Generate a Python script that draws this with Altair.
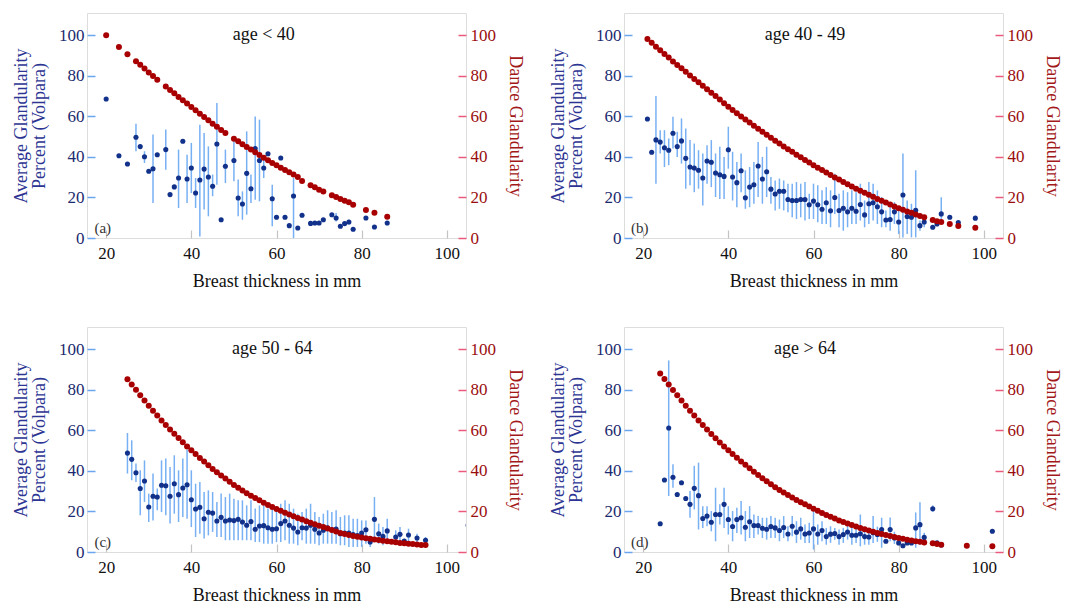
import altair as alt
import pandas as pd

FONT = "Liberation Serif"

# ---------------- panel (a): age < 40 ----------------
a_red_x = [20, 23, 25, 27, 28, 29, 30, 31, 32, 34, 35, 36, 37, 38, 39, 40, 41, 42, 43, 44, 45, 46, 47, 48,
           50, 51, 52, 53, 54, 55, 56, 57, 58, 59, 60, 61, 62, 63, 64, 65, 66, 68, 69, 70, 71,
           73, 74, 75, 76, 77, 78, 81, 83, 86]
a_red_y = [100, 94.2, 90.6, 87.2, 85.5, 83.6, 81.7, 79.9, 78.1, 74.7, 73.0, 71.4, 69.6, 67.9, 66.3, 64.6,
           63.0, 61.3, 59.7, 58.1, 56.4, 54.9, 53.3, 51.8, 49.0, 47.7, 46.2, 44.9, 43.6, 42.3, 41.0, 39.6,
           38.3, 37.0, 35.9, 34.7, 33.6, 32.4, 31.3, 30.1, 28.1, 26.0, 25.0, 23.8, 22.9, 21.1, 20.2, 19.2,
           18.4, 17.6, 16.4, 13.8, 12.5, 10.5]
a_blue_x = [20, 23, 25, 27, 28, 29, 30, 31, 32, 34, 35, 36, 37, 38, 39, 40, 41, 42, 43, 44, 45, 46, 47, 48,
            50, 51, 52, 53, 54, 55, 56, 57, 58, 59, 60, 61, 62, 63, 64, 65, 66, 68, 69, 70, 71,
            73, 74, 75, 76, 77, 78, 81, 83, 86]
a_blue_y = [68.6, 40.6, 36.5, 49.7, 45.1, 40.1, 32.9, 34.2, 41.1, 43.6, 21.4, 25.2, 29.6, 47.7, 29.1, 34.5,
            22.2, 28.6, 34.0, 30.1, 25.5, 46.4, 9.0, 35.4, 38.2, 19.7, 16.8, 31.9, 24.3, 44.1, 38.2, 34.5,
            41.6, 19.4, 10.2, 39.5, 10.2, 6.1, 20.7, 4.9, 11.2, 7.2, 7.4, 7.4, 9.0, 11.5, 9.9, 5.8, 7.1,
            7.9, 4.3, 9.9, 5.4, 7.4]
a_bar_x = [27, 29, 31, 34, 37, 39, 40, 41, 42, 43, 44, 45, 46, 48, 50, 51, 52, 53, 54, 55, 56, 57, 59, 64, 74, 77]
a_bar_lo = [42.8, 37.0, 17.3, 33.7, 14.8, 17.3, 22.2, 14.8, 0.8, 14.0, 10.7, 20.6, 26.3, 27.1, 28.0, 10.7,
            9.0, 11.5, 17.3, 18.9, 18.1, 29.6, 5.8, 0.0, 8.2, 6.6]
a_bar_hi = [56.4, 42.8, 51.0, 53.5, 43.6, 41.1, 46.9, 29.6, 55.9, 51.8, 45.2, 31.3, 66.6, 43.6, 48.5, 28.8,
            23.0, 52.6, 31.3, 60.0, 58.4, 38.7, 26.3, 29.6, 12.3, 9.0]

# ---------------- panel (b): age 40 - 49 ----------------
b_red_x = [21, 22, 23, 24, 25, 26, 27, 28, 29, 30, 31, 32, 33, 34, 35, 36, 37, 38, 39, 40,
           41, 42, 43, 44, 45, 46, 47, 48, 49, 50, 51, 52, 53, 54, 55, 56, 57, 58, 59, 60,
           61, 62, 63, 64, 65, 66, 67, 68, 69, 70, 71, 72, 73, 74, 75, 76, 77, 78, 79, 80,
           81, 82, 83, 84, 85, 86, 88, 89, 90, 92, 94, 98]
b_red_y = [98.2, 96.3, 94.4, 92.6, 90.8, 89.0, 87.1, 85.4, 83.7, 82.0,
           80.2, 78.5, 76.8, 75.1, 73.4, 71.7, 70.0, 68.3, 66.5, 64.8,
           63.2, 61.6, 60.0, 58.5, 57.0, 55.4, 53.9, 52.4, 50.9, 49.4,
           48.0, 46.6, 45.2, 43.8, 42.5, 41.1, 39.8, 38.5, 37.2, 35.9,
           34.7, 33.5, 32.3, 31.1, 29.9, 28.8, 27.6, 26.5, 25.4, 24.3,
           23.3, 22.3, 21.3, 20.3, 19.3, 18.4, 17.5, 16.5, 15.6, 14.7,
           13.9, 13.1, 12.4, 11.6, 10.9, 10.2, 8.9, 8.3, 7.9, 6.9, 5.9, 5.0]
b_blue_x = b_red_x
b_blue_y = [58.7, 42.3, 48.4, 47.3, 44.5, 43.3, 51.7, 45.1, 47.9, 39.3,
            35.0, 34.5, 33.4, 29.6, 38.0, 37.4, 32.1, 31.2, 30.4, 43.5,
            30.1, 27.3, 33.2, 19.8, 25.1, 26.3, 35.5, 29.1, 32.7, 24.1,
            21.7, 23.1, 23.1, 19.0, 18.5, 18.5, 19.0, 19.0, 16.4, 18.2,
            16.4, 14.2, 17.4, 13.4, 20.0, 13.6, 14.7, 12.9, 14.7, 13.2,
            16.5, 11.4, 16.9, 17.4, 15.4, 12.9, 8.9, 9.1, 12.9, 7.9,
            21.2, 10.6, 10.2, 13.7, 6.1, 7.9, 5.3, 6.9, 11.9, 10.2, 7.6, 9.8]
b_bar_x = [23, 24, 25, 26, 27, 28, 29, 30, 31, 32, 33, 34, 35, 36, 37, 38, 39, 40,
           41, 42, 43, 44, 45, 46, 47, 48, 49, 50, 51, 52, 53, 54, 55, 56, 57, 58, 59, 60,
           61, 62, 63, 64, 65, 66, 67, 68, 69, 70, 71, 72, 73, 74, 75, 76, 77, 78, 79, 80,
           81, 82, 83, 84, 85, 86, 90]
b_bar_hi = [70.1, 53.2, 53.2, 49.1, 59.8, 52.4, 59.0, 54.0,
            48.3, 46.6, 43.3, 41.7, 45.8, 48.3, 41.7, 45.0, 40.0, 54.9,
            42.5, 37.5, 41.7, 33.4, 35.0, 37.5, 47.4, 40.0, 45.0, 30.1,
            28.4, 29.3, 28.4, 26.8, 26.8, 27.6, 26.8, 27.6, 21.8, 26.8,
            26.0, 23.5, 25.1, 23.5, 31.7, 21.8, 23.5, 22.6, 23.5, 22.6,
            26.8, 18.5, 27.6, 26.8, 23.5, 20.2, 13.6, 15.2, 17.7, 13.6,
            41.7, 18.5, 16.9, 33.4, 8.6, 10.2, 20.1]
b_bar_lo = [26.8, 41.7, 35.0, 35.9, 44.1, 40.0, 36.7, 24.3,
            26.0, 22.6, 24.3, 16.0, 26.8, 25.1, 20.2, 19.3, 19.3, 34.2,
            18.5, 15.2, 22.6, 14.4, 15.2, 16.9, 20.2, 16.9, 20.2, 16.9,
            13.6, 14.4, 13.6, 12.7, 10.2, 9.4, 10.2, 8.6, 9.4, 9.4,
            7.8, 6.9, 6.9, 5.3, 11.9, 5.3, 3.6, 5.3, 6.9, 6.9,
            8.6, 5.3, 6.9, 8.6, 6.9, 5.3, 5.3, 3.6, 6.9, 2.0,
            0.3, 2.0, 0.3, 0.3, 3.6, 5.3, 7.7]

# ---------------- panel (c): age 50 - 64 ----------------
c_red_x = [25, 26, 27, 28, 29, 30, 31, 32, 33, 34, 35, 36, 37, 38, 39, 40, 41, 42, 43, 44,
           45, 46, 47, 48, 49, 50, 51, 52, 53, 54, 55, 56, 57, 58, 59, 60, 61, 62, 63, 64,
           65, 66, 67, 68, 69, 70, 71, 72, 73, 74, 75, 76, 77, 78, 79, 80, 81, 82, 83, 84,
           85, 86, 87, 88, 89, 90, 91, 92, 93, 94, 95]
c_red_y = [85.2, 82.6, 80.0, 77.3, 74.7, 72.2, 69.7, 67.3, 64.9, 62.6,
           60.4, 58.3, 56.2, 54.1, 52.1, 50.2, 48.3, 46.4, 44.6, 42.8,
           41.0, 39.4, 37.8, 36.2, 34.6, 33.1, 31.7, 30.3, 29.0, 27.8,
           26.6, 25.5, 24.3, 23.2, 22.2, 21.2, 20.3, 19.4, 18.5, 17.6,
           16.8, 16.0, 15.2, 14.4, 13.7, 13.0, 12.3, 11.6, 10.9, 10.1,
           9.4, 8.9, 8.4, 7.9, 7.5, 7.1, 6.8, 6.5, 6.2, 5.9,
           5.6, 5.3, 5.0, 4.8, 4.5, 4.3, 4.1, 3.9, 3.7, 3.5, 3.4]
c_blue_x = [25, 26, 27, 28, 29, 30, 31, 32, 33, 34, 35, 36, 37, 38, 39, 40, 41, 42, 43, 44,
            45, 46, 47, 48, 49, 50, 51, 52, 53, 54, 55, 56, 57, 58, 59, 60, 61, 62, 63, 64,
            65, 66, 67, 68, 69, 70, 71, 72, 73, 74, 75, 76, 77, 78, 79, 80, 81, 82, 83, 84,
            85, 86, 88, 89, 90, 91, 93, 95, 105]
c_blue_y = [48.8, 45.7, 39.1, 31.3, 35.0, 22.2, 27.5, 27.1, 32.9, 32.7,
            27.5, 33.7, 28.3, 31.6, 33.2, 25.8, 21.2, 22.0, 16.4, 19.6,
            19.2, 15.3, 17.1, 15.3, 15.8, 15.5, 16.1, 14.8, 13.2, 15.0,
            11.2, 12.8, 13.0, 12.0, 11.2, 11.5, 14.0, 15.3, 13.2, 11.8,
            9.9, 12.0, 11.8, 13.2, 11.2, 9.4, 10.7, 12.0, 11.0, 11.3,
            9.0, 9.4, 9.4, 8.6, 8.1, 9.4, 11.0, 4.9, 16.1, 9.0,
            7.7, 10.4, 7.4, 8.7, 5.4, 8.4, 6.9, 5.8, 13.2]
c_bar_x = [25, 26, 27, 28, 29, 30, 31, 32, 33, 34, 35, 36, 37, 38, 39, 40, 41, 42, 43, 44,
           45, 46, 47, 48, 49, 50, 51, 52, 53, 54, 55, 56, 57, 58, 59, 60, 61, 62, 63, 64,
           65, 66, 67, 68, 69, 70, 71, 72, 73, 74, 75, 76, 77, 78, 79, 80, 81, 82, 83, 84,
           85, 86, 88, 89, 91, 93, 95]
c_bar_hi = [58.7, 55.1, 43.6, 40.3, 45.2, 28.8, 38.7, 31.3, 45.2, 46.1,
            41.9, 47.7, 40.3, 46.1, 50.5, 40.3, 33.7, 34.5, 29.6, 30.4,
            29.6, 24.7, 28.8, 27.1, 28.8, 26.3, 25.5, 25.5, 23.0, 25.5,
            21.4, 23.0, 23.0, 21.4, 21.4, 21.4, 23.8, 25.5, 23.8, 21.4,
            18.9, 19.7, 21.4, 23.8, 19.7, 17.3, 18.9, 20.6, 19.7, 20.6,
            17.3, 18.1, 18.1, 16.4, 16.4, 15.6, 15.6, 7.4, 27.1, 14.0,
            12.3, 16.4, 10.7, 12.3, 11.5, 9.0, 7.4]
c_bar_lo = [38.7, 35.4, 34.5, 18.1, 24.7, 14.8, 15.6, 20.6, 19.7, 18.1,
            14.0, 18.9, 14.8, 17.3, 16.4, 12.3, 7.4, 9.0, 6.6, 8.2,
            9.9, 7.4, 7.4, 5.8, 5.8, 5.8, 5.8, 5.8, 5.8, 5.8,
            4.9, 4.9, 4.1, 4.1, 4.1, 4.9, 4.9, 5.8, 4.1, 4.1,
            3.3, 5.8, 4.1, 4.1, 4.1, 3.3, 4.1, 4.1, 4.1, 4.1,
            3.3, 3.3, 2.5, 2.5, 2.5, 2.5, 4.1, 2.5, 7.4, 4.1,
            3.3, 5.8, 4.1, 4.9, 4.9, 4.1, 4.1]

# ---------------- panel (d): age > 64 ----------------
d_red_x = [24, 25, 26, 27, 28, 29, 30, 31, 32, 33, 34, 35, 36, 37, 38, 39, 40, 41, 42, 43,
           44, 45, 46, 47, 48, 49, 50, 51, 52, 53, 54, 55, 56, 57, 58, 59, 60, 61, 62, 63,
           64, 65, 66, 67, 68, 69, 70, 71, 72, 73, 74, 75, 76, 77, 78, 79, 80, 81, 82, 83,
           84, 85, 86, 88, 89, 90, 96, 102]
d_red_y = [88.1, 85.3, 82.6, 79.9, 77.3, 74.7, 72.2, 69.7, 67.3, 64.9,
           62.6, 60.4, 58.2, 56.1, 54.0, 52.1, 50.2, 48.3, 46.5, 44.7,
           43.0, 41.3, 39.6, 38.0, 36.4, 34.9, 33.4, 32.0, 30.6, 29.3,
           28.1, 26.9, 25.7, 24.6, 23.5, 22.5, 21.3, 20.3, 19.3, 18.3,
           17.4, 16.5, 15.6, 14.8, 14.0, 13.3, 12.6, 11.9, 11.2, 10.6,
           10.0, 9.4, 8.9, 8.4, 7.9, 7.4, 6.9, 6.5, 6.0, 5.7,
           5.3, 5.0, 4.7, 4.3, 4.0, 3.6, 3.1, 2.8]
d_blue_x = [24, 25, 26, 27, 28, 29, 30, 31, 32, 33, 34, 35, 36, 37, 38, 39, 40, 41, 42, 43,
            44, 45, 46, 47, 48, 49, 50, 51, 52, 53, 54, 55, 56, 57, 58, 59, 60, 61, 62, 63,
            64, 65, 66, 67, 68, 69, 70, 71, 72, 73, 74, 75, 76, 77, 78, 79, 80, 81, 82, 83,
            84, 85, 86, 88, 89, 90, 102]
d_blue_y = [13.9, 35.5, 61.2, 36.9, 28.4, 34.2, 26.4, 23.5, 31.4, 27.8,
            16.5, 17.7, 14.7, 18.5, 18.5, 23.5, 16.0, 12.6, 16.0, 16.9,
            12.2, 14.9, 13.1, 13.1, 11.7, 11.2, 12.6, 11.9, 10.6, 12.1,
            8.9, 12.7, 9.8, 11.4, 8.9, 9.4, 11.4, 8.9, 10.6, 7.6,
            8.8, 9.1, 7.6, 8.6, 9.9, 8.3, 8.3, 9.0, 7.6, 7.4,
            9.5, 8.6, 11.1, 5.3, 11.1, 6.9, 4.5, 3.1, 4.5, 4.5,
            11.9, 13.5, 7.2, 21.3, 4.5, 3.5, 10.2]
d_bar_x = [26, 27, 31, 32, 33, 34, 35, 36, 37, 38, 39, 40, 41, 42, 43, 44, 45, 46, 47, 48,
           49, 50, 51, 52, 53, 54, 55, 56, 57, 58, 59, 60, 61, 62, 63, 64, 65, 66, 67, 68,
           69, 70, 71, 72, 73, 74, 75, 76, 78, 79, 84, 85, 86, 88]
d_bar_hi = [94.5, 43.3, 30.1, 42.5, 44.1, 22.6, 22.6, 20.2, 31.7, 23.5, 31.7, 22.6, 20.2, 21.8, 25.1,
            20.2, 22.6, 18.5, 17.7, 16.9, 16.9, 17.7, 16.9, 16.0, 17.7, 12.7, 17.7, 15.2, 16.9, 13.6,
            14.4, 20.2, 13.6, 15.2, 11.9, 12.7, 11.9, 11.1, 11.9, 13.6, 12.7, 11.9, 18.5, 11.1, 11.1,
            17.7, 12.5, 16.9, 17.0, 10.0, 19.5, 24.5, 9.5, 23.0]
d_bar_lo = [27.6, 31.7, 16.9, 21.0, 11.1, 11.9, 12.7, 10.2, 5.3, 13.6, 11.9, 8.6, 5.3, 9.4, 8.6,
            5.3, 6.9, 6.9, 8.6, 6.9, 6.1, 6.9, 6.9, 5.3, 6.9, 5.3, 7.8, 4.5, 6.1, 4.5,
            4.5, 1.2, 3.6, 5.3, 3.6, 4.5, 6.1, 3.6, 4.5, 6.1, 3.6, 4.5, 2.8, 3.6, 3.6,
            4.5, 5.0, 2.1, 5.3, 4.0, 2.1, 3.6, 5.0, 19.8]

panel_titles = ["age < 40", "age 40 - 49", "age 50 - 64", "age > 64"]
panel_tags = ["(a)", "(b)", "(c)", "(d)"]
title_pos = [(57, 100), (58, 100), (59, 100), (58, 100)]
tag_pos = (19.2, 5)

x_ticks = [20, 40, 60, 80, 100]
y_ticks = [0, 20, 40, 60, 80, 100]

NAVY = "#11318a"
BAR = "#78b0f4"
RED = "#a80000"


def panel(i, red_x, red_y, blue_x, blue_y, bar_x, bar_lo, bar_hi):
    xs = alt.Scale(domain=[15.5, 104.5], nice=False, zero=False)
    ys = alt.Scale(domain=[0, 111], nice=False, zero=False)
    xax = alt.Axis(title="Breast thickness in mm", values=x_ticks, orient="bottom", offset=-8,
                   tickSize=8, tickColor="#c4c4c4", tickWidth=1.2, domain=False, grid=False,
                   labelFont=FONT, labelFontSize=17, labelColor="#111111", labelPadding=7,
                   titleFont=FONT, titleFontSize=18, titleFontWeight="normal", titleColor="#111111",
                   titlePadding=11)
    yl = alt.Axis(title=["Average Glandularity", "Percent (Volpara)"], values=y_ticks, orient="left",
                  offset=-8, tickSize=8, tickColor="#6aa6f0", tickWidth=1.5, domain=False, grid=False,
                  labelFont=FONT, labelFontSize=17, labelColor="#1b2a6e", labelPadding=3,
                  titleFont=FONT, titleFontSize=18, titleFontWeight="normal", titleColor="#2c3593",
                  titlePadding=10, titleLineHeight=18)
    yr = alt.Axis(title="Dance Glandularity", values=y_ticks, orient="right",
                  offset=-8, tickSize=8, tickColor="#ea5a7c", tickWidth=1.5, domain=False, grid=False,
                  labelFont=FONT, labelFontSize=17, labelColor="#9a0d0d", labelPadding=4,
                  titleFont=FONT, titleFontSize=18, titleFontWeight="normal", titleColor="#a31818",
                  titlePadding=10)

    bars = pd.DataFrame({"x": bar_x, "lo": bar_lo, "hi": bar_hi})
    blue = pd.DataFrame({"x": blue_x, "y": blue_y})
    red = pd.DataFrame({"x": red_x, "y": red_y})
    ttl = pd.DataFrame({"x": [title_pos[i][0]], "y": [title_pos[i][1]], "t": [panel_titles[i]]})
    tag = pd.DataFrame({"x": [tag_pos[0]], "y": [tag_pos[1]], "t": [panel_tags[i]]})

    X = alt.X("x:Q", scale=xs, axis=xax)
    rules = alt.Chart(bars).mark_rule(color=BAR, strokeWidth=1.5, clip=True).encode(
        x=X, y=alt.Y("lo:Q", scale=ys, axis=yl), y2="hi:Q")
    pts = alt.Chart(blue).mark_circle(color=NAVY, size=26, opacity=1, clip=True).encode(
        x=X, y=alt.Y("y:Q", scale=ys, axis=yl))
    t1 = alt.Chart(ttl).mark_text(font=FONT, fontSize=18, color="#111111", baseline="middle").encode(
        x=X, y=alt.Y("y:Q", scale=ys, axis=yl), text="t:N")
    t2 = alt.Chart(tag).mark_text(font=FONT, fontSize=15, color="#333333", baseline="middle").encode(
        x=X, y=alt.Y("y:Q", scale=ys, axis=yl), text="t:N")
    left = alt.layer(rules, pts, t1, t2)
    reds = alt.Chart(red).mark_circle(color=RED, size=36, opacity=1, clip=True).encode(
        x=X, y=alt.Y("y:Q", scale=ys, axis=yr))
    return alt.layer(left, reds).resolve_scale(y="independent").properties(width=379, height=225)


pa = panel(0, a_red_x, a_red_y, a_blue_x, a_blue_y, a_bar_x, a_bar_lo, a_bar_hi)
pb = panel(1, b_red_x, b_red_y, b_blue_x, b_blue_y, b_bar_x, b_bar_lo, b_bar_hi)
pc = panel(2, c_red_x, c_red_y, c_blue_x, c_blue_y, c_bar_x, c_bar_lo, c_bar_hi)
pd_ = panel(3, d_red_x, d_red_y, d_blue_x, d_blue_y, d_bar_x, d_bar_lo, d_bar_hi)

chart = alt.vconcat(
    alt.hconcat(pa, pb, spacing=25),
    alt.hconcat(pc, pd_, spacing=25),
    spacing=35,
).properties(
    padding={"left": 4, "top": 4, "right": 4, "bottom": 0}
).configure_view(stroke="#858585", strokeWidth=1.5).configure(font=FONT)

chart.save("out.html", embed_options={"renderer": "svg", "actions": False})
